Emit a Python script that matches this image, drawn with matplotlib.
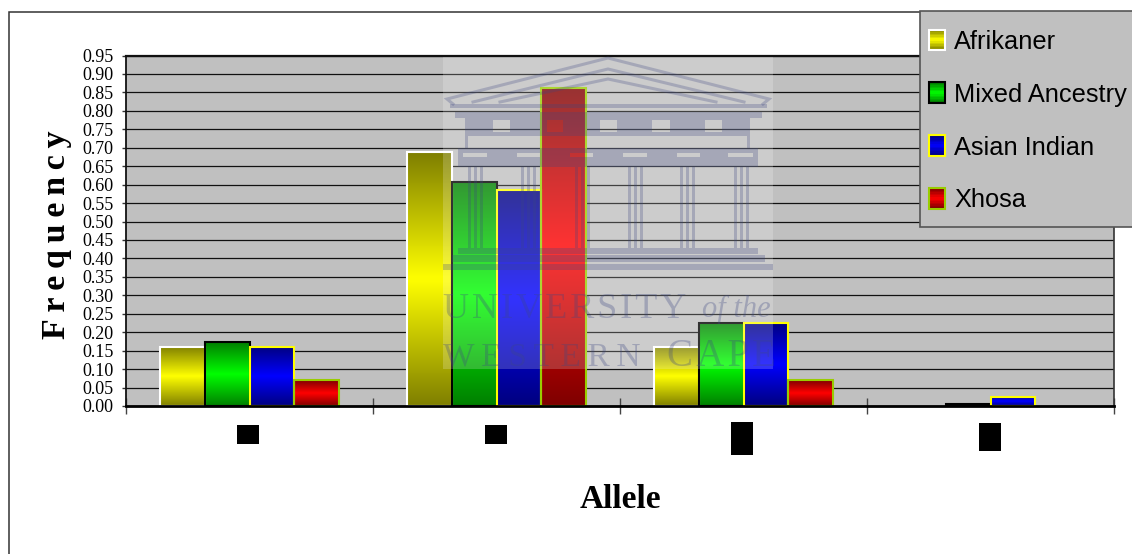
import numpy as np
import matplotlib
matplotlib.use("Agg")
import matplotlib.pyplot as plt
from matplotlib.legend_handler import HandlerBase
from matplotlib.patches import Rectangle

W, H = 1132, 554

# Allele frequencies per population
populations = ["Afrikaner", "Mixed Ancestry", "Asian Indian", "Xhosa"]
afrikaner = [0.16, 0.688, 0.16, 0.0]
mixed_ancestry = [0.173, 0.607, 0.225, 0.005]
asian_indian = [0.16, 0.585, 0.225, 0.025]
xhosa = [0.07, 0.862, 0.07, 0.0]
series = [afrikaner, mixed_ancestry, asian_indian, xhosa]

# Fill and outline colours: dark shade, bright shade, edge
dark_shades = ["#808000", "#008000", "#000080", "#800000"]
bright_shades = ["#FFFF00", "#00FF00", "#0000FF", "#FF0000"]
edge_colours = ["#FFFFFF", "#000000", "#FFFF00", "#99CC00"]
tick_values = np.arange(0, 0.951, 0.05)

THIN = "\u2009"
HAIR = "\u200a"


def gradient(dark, bright, n=64):
    """Vertical dark-bright-dark ramp as an RGB array."""
    d = np.array(matplotlib.colors.to_rgb(dark))
    b = np.array(matplotlib.colors.to_rgb(bright))
    t = 1 - np.abs(np.linspace(-1, 1, n))
    return (d + (b - d) * t[:, None])[:, None, :]


class ShadedSwatch(HandlerBase):
    """Legend key with the same banded shading as the bars."""

    def create_artists(self, legend, orig, xd, yd, width, height, fontsize, trans):
        artists = []
        ramp = gradient(orig.dark, orig.bright, 14)
        for i in range(14):
            artists.append(Rectangle((-xd, -yd + height * (13 - i) / 14), width, height / 14 + 0.2,
                                     facecolor=ramp[i, 0], edgecolor="none", transform=trans))
        artists.append(Rectangle((-xd, -yd), width, height, facecolor="none",
                                 edgecolor=orig.edge, linewidth=1.5, transform=trans))
        return artists


fig = plt.figure(figsize=(W / 100, H / 100), dpi=100, facecolor="white")
ax = fig.add_axes([126 / W, 1 - 406 / H, (1114 - 126) / W, (406 - 55.5) / H], facecolor="#C0C0C0")

# Grouped bars with a shaded fill
categories = np.arange(4)
bar_w = 0.182
for k, values in enumerate(series):
    offs = categories + (k - 1.5) * bar_w
    rects = ax.bar(offs, values, bar_w, facecolor="none", edgecolor=edge_colours[k],
                   linewidth=1.5, zorder=4)
    for r, v in zip(rects, values):
        if v == 0:
            r.set_linewidth(0)
            continue
        x0, x1 = r.get_x(), r.get_x() + r.get_width()
        ax.imshow(gradient(dark_shades[k], bright_shades[k]), extent=(x0, x1, 0, v),
                  aspect="auto", zorder=3, interpolation="bilinear")

ax.set_xlim(-0.5, 3.5)
ax.set_ylim(0, 0.95)
ax.set_yticks(tick_values)
ax.set_yticklabels([f"{v:.2f}" for v in tick_values], family="Liberation Serif", fontsize=13)
ax.tick_params(axis="y", length=3, width=1, pad=6, color="#333333")
ax.yaxis.grid(True, color="#111111", linewidth=0.9)
ax.set_axisbelow(True)
ax.set_xticks(np.arange(-0.5, 4, 1))
ax.set_xticklabels([])
ax.tick_params(axis="x", length=11.5, width=1, direction="inout", color="#444444")
for side, lw, col in [("top", 1.6, "#111111"), ("bottom", 2, "#000000"),
                      ("left", 1.3, "#111111"), ("right", 1.2, "#333333")]:
    ax.spines[side].set_linewidth(lw)
    ax.spines[side].set_color(col)
    ax.spines[side].set_zorder(5)

# Full-figure layer in pixel units for the frame, labels and crest
ov = fig.add_axes([0, 0, 1, 1], facecolor="none", zorder=5)
ov.set_xlim(0, W)
ov.set_ylim(H, 0)
ov.axis("off")

ov.plot([8.5, 8.5, W], [H, 11.5, 11.5], color="#333333", lw=1.1, solid_joinstyle="miter")

# Masked category labels
for x0, x1, y0, y1 in [(237, 259, 425, 444), (485, 507, 425, 444),
                       (731, 753, 422, 455), (979, 1001, 423, 451)]:
    ov.add_patch(Rectangle((x0, y0), x1 - x0, y1 - y0, facecolor="black", edgecolor="none"))

ov.text(620, 500, "Allele", family="Liberation Serif", weight="bold", fontsize=24,
        ha="center", va="center", color="black")
ov.text(57, 235, THIN.join("Frequency"), family="Liberation Serif", weight="bold", fontsize=24.5,
        rotation=90, ha="center", va="center", color="black")

# University crest
ov.add_patch(Rectangle((443, 57), 330, 312, facecolor="white", alpha=0.2, edgecolor="none"))
ink = "#3C4682"
ink_a = 0.27
text_a = 0.3


def block(x0, y0, x1, y1):
    ov.add_patch(Rectangle((x0, y0), x1 - x0, y1 - y0, facecolor=ink, alpha=ink_a, edgecolor="none"))


def stroke(xs, ys, lw=2.2):
    ov.plot(xs, ys, color=ink, alpha=ink_a, lw=lw, solid_joinstyle="miter")


# Pediment
stroke([453, 447, 608, 769, 763], [104, 99, 58, 99, 104])
stroke([473, 608, 744], [102, 69, 102])
stroke([500, 608, 716], [102, 79, 102])
block(450, 104, 767, 108)
block(455, 112, 762, 118)
# Upper storey with window openings
band_edges = [465, 493, 510, 547, 563, 600, 617, 652, 670, 705, 722, 750]
for a, b in zip(band_edges[0::2], band_edges[1::2]):
    block(a, 118, b, 136)
for a, b in zip(band_edges[1::2], band_edges[2::2]):
    block(a, 118, b, 120)
    block(a, 132, b, 136)
block(465, 136, 468, 148)
block(747, 136, 750, 148)
# Lintel with light notches above each column group
block(458, 148, 758, 153)
notch_edges = [458, 463, 487, 517, 540, 570, 593, 623, 647, 677, 700, 728, 753, 758]
for a, b in zip(notch_edges[0::2], notch_edges[1::2]):
    block(a, 153, b, 157)
block(458, 157, 758, 167)
# Columns in threes
for cx in [475, 528, 582, 635, 687, 741]:
    for dx in (-6, 0, 6):
        block(cx + dx - 1.5, 167, cx + dx + 1.5, 248)
# Steps
block(458, 248, 758, 254)
block(452, 255, 765, 262)
block(443, 264, 773, 270)

ov.text(443, 309, HAIR.join("UNIVERSITY"), family="Liberation Serif", fontsize=26, color=ink, alpha=text_a,
        ha="left", va="center")
ov.text(702, 309, "of the", family="Liberation Serif", style="italic", fontsize=22, color=ink,
        alpha=text_a, ha="left", va="center")
ov.text(443, 357, THIN.join("WESTERN"), family="Liberation Serif", fontsize=24, color=ink, alpha=text_a,
        ha="left", va="center")
ov.text(667, 357, HAIR.join("CAPE"), family="Liberation Serif", fontsize=28, color=ink, alpha=text_a,
        ha="left", va="center")

# Legend box that runs past the right edge
ov.add_patch(Rectangle((920, 11), W, 216, facecolor="#C0C0C0", edgecolor="#555555", linewidth=1.2, zorder=8))
proxies = []
for k, name in enumerate(populations):
    p = Rectangle((0, 0), 1, 1, label=name)
    p.dark, p.bright, p.edge = dark_shades[k], bright_shades[k], edge_colours[k]
    proxies.append(p)
leg = fig.legend(handles=proxies, handler_map={Rectangle: ShadedSwatch()},
                 loc="center left", bbox_to_anchor=(929 / W, 1 - 121 / H), borderaxespad=0,
                 prop={"family": "Liberation Sans", "size": 18.3},
                 frameon=False, handlelength=0.63, handleheight=0.88, handletextpad=0.36,
                 labelspacing=1.13, borderpad=0)
leg.set_zorder(10)

fig.savefig("out.png", dpi=100)
